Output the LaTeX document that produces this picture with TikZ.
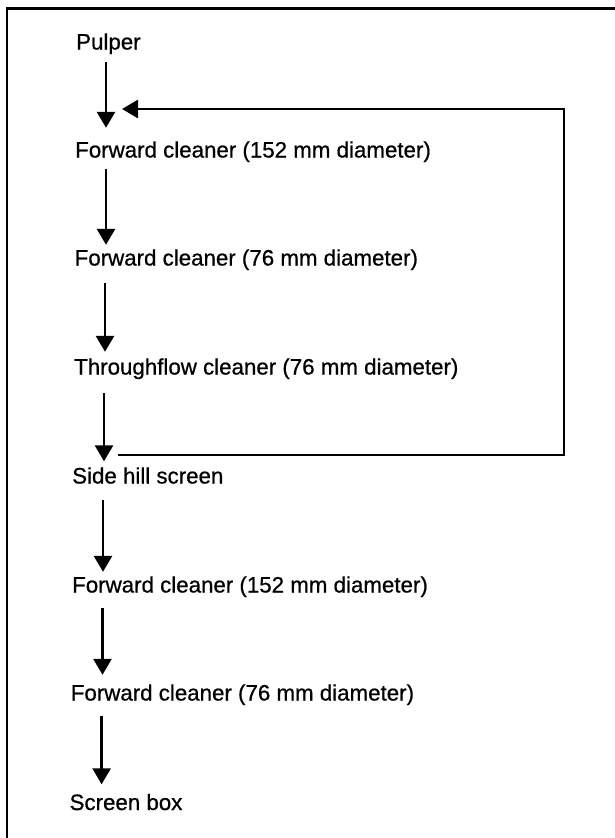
\documentclass[tikz,border=0pt]{standalone}
\usepackage{fontspec}
\setmainfont{Liberation Sans}[FakeBold=0.7]
\usetikzlibrary{arrows.meta}
\tikzset{
  lbl/.style={anchor=base west, inner sep=0pt, text height=16pt, text depth=5pt, font=\fontsize{22.3}{26}\selectfont},
  arr/.style={line width=2.8pt, -{Triangle[width=18pt,length=16pt]}},
  frame/.style={line width=2.8pt}
}
\begin{document}
\begin{tikzpicture}[x=1pt,y=-1pt]
\useasboundingbox (0,0) rectangle (615,838);
\clip (0,0) rectangle (615,838);
\draw[frame] (7,860) -- (7,8.7) -- (640,8.7);
\node[lbl] (P)  at (76,49.5)   {Pulper};
\node[lbl] (F1) at (75,157.5)  {Forward cleaner (152 mm diameter)};
\node[lbl] (F2) at (74.5,265.5){Forward cleaner (76 mm diameter)};
\node[lbl] (T)  at (74,374.5)  {Throughflow cleaner (76 mm diameter)};
\node[lbl] (S)  at (72,483.5)  {Side hill screen};
\node[lbl] (F3) at (72,592.5)  {Forward cleaner (152 mm diameter)};
\node[lbl] (F4) at (70.6,700.5){Forward cleaner (76 mm diameter)};
\node[lbl] (SB) at (69.4,810)  {Screen box};
\draw[arr, shorten <=7.5pt, shorten >=13.5pt] ([xshift=30pt]P.south west) -- ([xshift=30pt]P.south west |- F1.north);
\draw[arr, shorten <=6.5pt, shorten >=4.5pt] ([xshift=31pt]F1.south west) -- ([xshift=31pt]F1.south west |- F2.north);
\draw[arr, shorten <=12.5pt, shorten >=6.5pt] ([xshift=30.5pt]F2.south west) -- ([xshift=30.5pt]F2.south west |- T.north);
\draw[arr, shorten <=13.5pt, shorten >=6pt] ([xshift=30pt]T.south west) -- ([xshift=30pt]T.south west |- S.north);
\draw[arr, shorten <=11.5pt, shorten >=4.5pt] ([xshift=31pt]S.south west) -- ([xshift=31pt]S.south west |- F3.north);
\draw[arr, shorten <=10.5pt, shorten >=9.5pt] ([xshift=30.5pt]F3.south west) -- ([xshift=30.5pt]F3.south west |- F4.north);
\draw[arr, shorten <=10.5pt, shorten >=9.5pt] ([xshift=31pt]F4.south west) -- ([xshift=31pt]F4.south west |- SB.north);
\coordinate (loopS) at (118,455);
\coordinate (loopR) at (564,109);
\coordinate (loopE) at (122,109);
\draw[arr] (loopS) -| (loopR) -- (loopE);
\end{tikzpicture}
\end{document}
